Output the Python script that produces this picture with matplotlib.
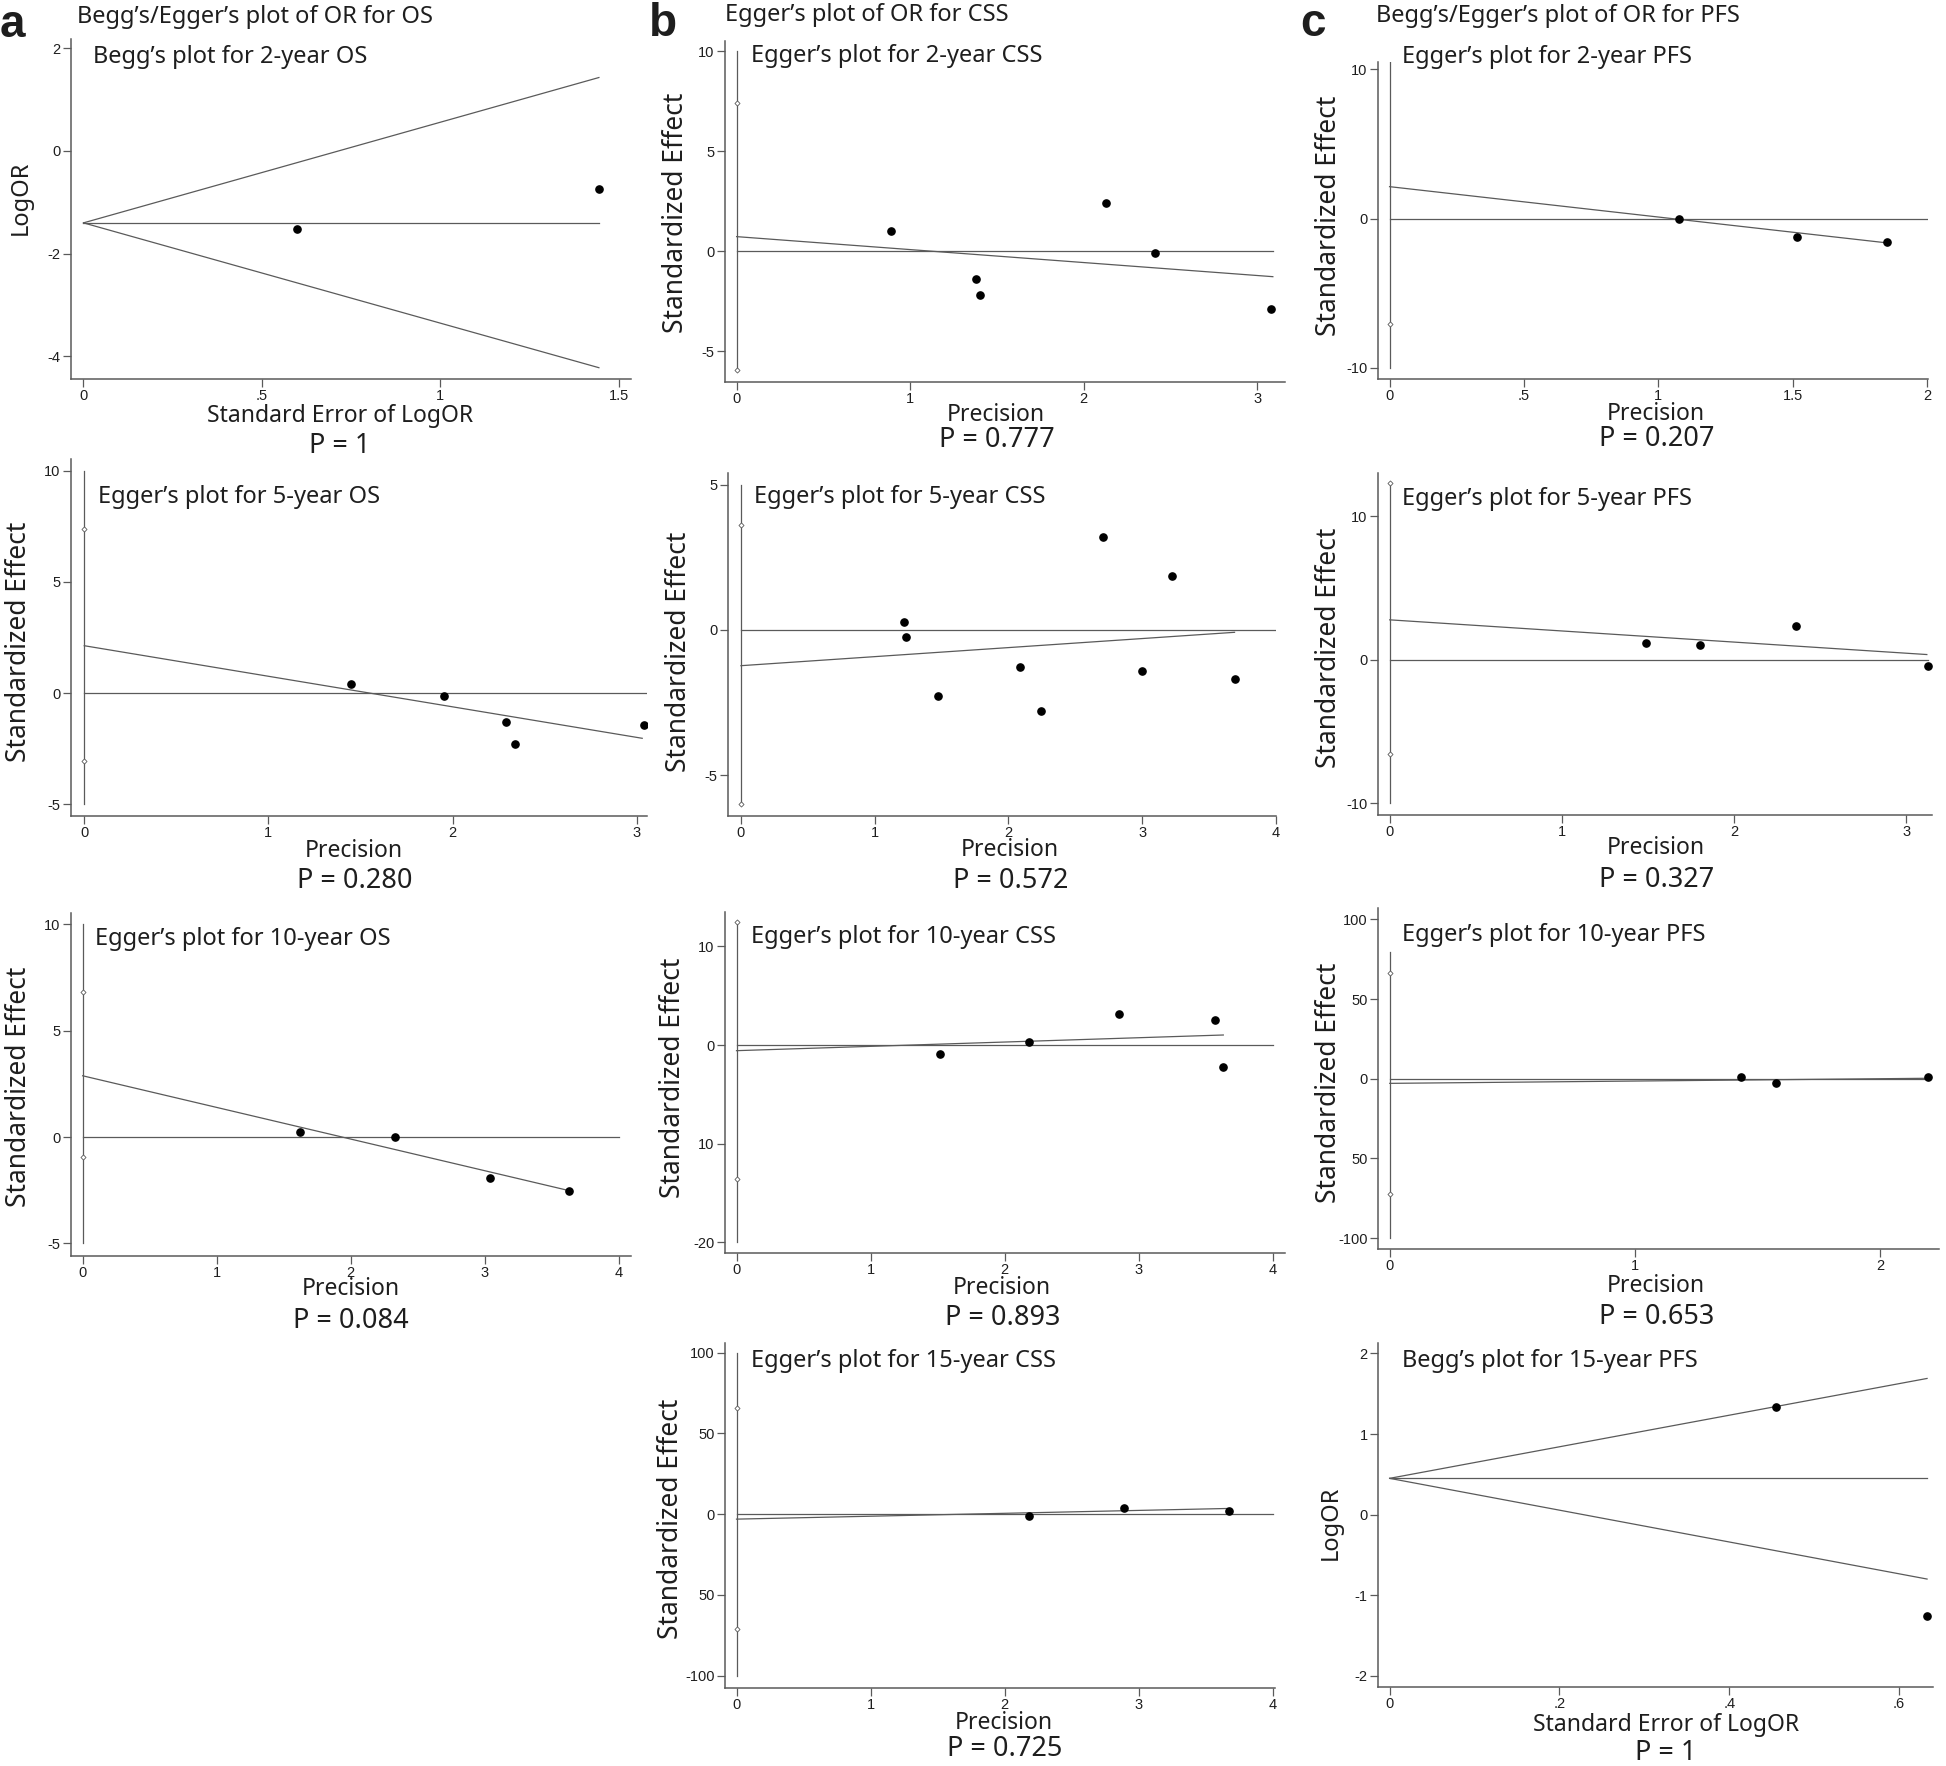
import matplotlib
matplotlib.use("Agg")
import matplotlib.pyplot as plt

W, H = 1946, 1766

# ---------------- data ----------------
# a: OS
a1_se = [0.60, 1.444]
a1_logor = [-1.52, -0.74]
a1_pooled = -1.40
a1_se_max = 1.445
a1_funnel_upper = 1.43
a1_funnel_lower = -4.22
a1_p = "P = 1"

a2_prec = [1.45, 1.955, 2.29, 2.34, 3.04]
a2_eff = [0.42, -0.15, -1.31, -2.30, -1.44]
a2_fit_x = [0, 3.03]
a2_fit_y = [2.13, -2.04]
a2_ci = [7.37, -3.06]
a2_p = "P = 0.280"

a3_prec = [1.62, 2.33, 3.04, 3.63]
a3_eff = [0.22, 0.0, -1.94, -2.52]
a3_fit_x = [0, 3.63]
a3_fit_y = [2.88, -2.52]
a3_ci = [6.82, -0.94]
a3_p = "P = 0.084"

# b: CSS
b1_prec = [0.89, 1.38, 1.40, 2.13, 2.41, 3.08]
b1_eff = [1.0, -1.37, -2.2, 2.43, -0.07, -2.88]
b1_fit_x = [0, 3.09]
b1_fit_y = [0.73, -1.27]
b1_ci = [7.4, -5.95]
b1_p = "P = 0.777"

b2_prec = [1.216, 1.235, 1.476, 2.085, 2.24, 2.705, 2.995, 3.225, 3.69]
b2_eff = [0.27, -0.24, -2.27, -1.28, -2.80, 3.20, -1.40, 1.87, -1.70]
b2_fit_x = [0, 3.69]
b2_fit_y = [-1.23, -0.08]
b2_ci = [3.62, -6.01]
b2_p = "P = 0.572"

b3_prec = [1.52, 2.18, 2.85, 3.57, 3.63]
b3_eff = [-0.94, 0.34, 3.19, 2.58, -2.19]
b3_fit_x = [0, 3.63]
b3_fit_y = [-0.57, 1.02]
b3_ci = [12.5, -13.56]
b3_p = "P = 0.893"

b4_prec = [2.18, 2.89, 3.67]
b4_eff = [-0.9, 4.1, 1.9]
b4_fit_x = [0, 3.66]
b4_fit_y = [-3.1, 3.5]
b4_ci = [66.0, -71.4]
b4_p = "P = 0.725"

# c: PFS
c1_prec = [1.077, 1.515, 1.85]
c1_eff = [0.0, -1.27, -1.58]
c1_fit_x = [0, 1.85]
c1_fit_y = [2.14, -1.63]
c1_ci = [-7.05]
c1_p = "P = 0.207"

c2_prec = [1.49, 1.80, 2.36, 3.125]
c2_eff = [1.14, 1.02, 2.37, -0.44]
c2_fit_x = [0, 3.12]
c2_fit_y = [2.79, 0.37]
c2_ci = [12.3, -6.6]
c2_p = "P = 0.327"

c3_prec = [1.433, 1.575, 2.197]
c3_eff = [0.8, -2.7, 1.2]
c3_fit_x = [0, 2.2]
c3_fit_y = [-2.9, 0.3]
c3_ci = [66.3, -72.3]
c3_p = "P = 0.653"

c4_se = [0.455, 0.633]
c4_logor = [1.33, -1.26]
c4_pooled = 0.45
c4_se_max = 0.633
c4_funnel_upper = 1.69
c4_funnel_lower = -0.80
c4_p = "P = 1"

GRAY = "#5a5a5a"
TXT = "#1e1e1e"
TITLE_FONT = ["Noto Sans", "DejaVu Sans"]
TICK_FONT = ["Liberation Sans Narrow", "Liberation Sans", "DejaVu Sans"]

fig = plt.figure(figsize=(W / 100, H / 100), dpi=100)


def fx(x):
  return x / W


def fy(y):
  return 1 - y / H


def make_axes(box, xlim, ylim, xticks, xlabels, yticks, ylabels):
  left, top, right, bottom = box
  ax = fig.add_axes([fx(left), fy(bottom), (right - left) / W, (bottom - top) / H])
  ax.set_xlim(*xlim)
  ax.set_ylim(*ylim)
  for side in ("top", "right"):
    ax.spines[side].set_visible(False)
  for side in ("left", "bottom"):
    ax.spines[side].set_color(GRAY)
    ax.spines[side].set_linewidth(1.1)
  ax.set_xticks(xticks)
  ax.set_xticklabels(xlabels, family=TICK_FONT, fontsize=10.5, color=TXT)
  ax.set_yticks(yticks)
  ax.set_yticklabels(ylabels, family=TICK_FONT, fontsize=10.5, color=TXT)
  ax.tick_params(direction="out", length=5.5, width=0.9, color=GRAY, pad=2)
  return ax


def egger(ax, prec, eff, fit_x, fit_y, vline, ci, zero_end):
  ax.plot([0, 0], vline, color=GRAY, lw=0.9)
  ax.plot([0] * len(ci), ci, ls="none", marker="D", ms=2.6,
          mfc="white", mec=GRAY, mew=0.6)
  ax.plot([0, zero_end], [0, 0], color=GRAY, lw=0.9)
  ax.plot(fit_x, fit_y, color=GRAY, lw=0.9)
  ax.plot(prec, eff, ls="none", marker="o", ms=5.2, color="black")


def begg(ax, se, logor, pooled, se_max, upper, lower):
  ax.plot([0, se_max], [pooled, pooled], color=GRAY, lw=0.9)
  ax.plot([0, se_max], [pooled, upper], color=GRAY, lw=0.9)
  ax.plot([0, se_max], [pooled, lower], color=GRAY, lw=0.9)
  ax.plot(se, logor, ls="none", marker="o", ms=5.2, color="black")


def text(x, y, s, size, ha="left", va="baseline", rot=0, weight="normal", family=TITLE_FONT):
  fig.text(fx(x), fy(y), s, fontsize=size, ha=ha, va=va, rotation=rot,
           fontweight=weight, family=family, color=TXT)


# positions are text baselines in pixels
def labels(title_xy, title, xlab_xy, xlab, p_xy, p, ylab_xy, ylab):
  text(title_xy[0], title_xy[1], title, 17)
  text(xlab_xy[0], xlab_xy[1], xlab, 16.5, ha="center")
  text(p_xy[0], p_xy[1], p, 19.5, ha="center")
  text(ylab_xy[0], ylab_xy[1], ylab, 19 if ylab != "LogOR" else 17, ha="center",
       va="center", rot=90)


# ---------------- column a ----------------
ax = make_axes((71, 39, 631, 379), (-0.035, 1.535), (-4.44, 2.18),
               [0, 0.5, 1, 1.5], ["0", ".5", "1", "1.5"], [2, 0, -2, -4], ["2", "0", "-2", "-4"])
begg(ax, a1_se, a1_logor, a1_pooled, a1_se_max, a1_funnel_upper, a1_funnel_lower)
labels((93, 63), "Begg’s plot for 2-year OS", (340, 422), "Standard Error of LogOR",
       (340, 453), a1_p, (21, 198), "LogOR")

ax = make_axes((71, 459, 647, 816), (-0.072, 3.056), (-5.54, 10.54),
               [0, 1, 2, 3], ["0", "1", "2", "3"], [10, 5, 0, -5], ["10", "5", "0", "-5"])
egger(ax, a2_prec, a2_eff, a2_fit_x, a2_fit_y, [10, -5], a2_ci, 3.05)
labels((98, 503), "Egger’s plot for 5-year OS", (354, 857), "Precision",
       (355, 888), a2_p, (19, 642), "Standardized Effect")

ax = make_axes((71, 913, 631, 1256), (-0.087, 4.09), (-5.59, 10.53),
               [0, 1, 2, 3, 4], ["0", "1", "2", "3", "4"], [10, 5, 0, -5], ["10", "5", "0", "-5"])
egger(ax, a3_prec, a3_eff, a3_fit_x, a3_fit_y, [10, -5], a3_ci, 4)
labels((95, 945), "Egger’s plot for 10-year OS", (351, 1295), "Precision",
       (351, 1328), a3_p, (19, 1087), "Standardized Effect")

# ---------------- column b ----------------
ax = make_axes((725, 41, 1285, 382), (-0.067, 3.16), (-6.53, 10.5),
               [0, 1, 2, 3], ["0", "1", "2", "3"], [10, 5, 0, -5], ["10", "5", "0", "-5"])
egger(ax, b1_prec, b1_eff, b1_fit_x, b1_fit_y, [10, -5.95], b1_ci, 3.09)
labels((751, 62), "Egger’s plot for 2-year CSS", (996, 421), "Precision",
       (997, 447), b1_p, (676, 213), "Standardized Effect")

ax = make_axes((728, 473, 1276, 816), (-0.097, 4.0), (-6.41, 5.41),
               [0, 1, 2, 3, 4], ["0", "1", "2", "3", "4"], [5, 0, -5], ["5", "0", "-5"])
egger(ax, b2_prec, b2_eff, b2_fit_x, b2_fit_y, [5, -6.01], b2_ci, 4)
labels((754, 503), "Egger’s plot for 5-year CSS", (1010, 856), "Precision",
       (1011, 888), b2_p, (679, 652), "Standardized Effect")

ax = make_axes((725, 912, 1285, 1253), (-0.086, 4.09), (-21.1, 13.5),
               [0, 1, 2, 3, 4], ["0", "1", "2", "3", "4"], [10, 0, -10, -20], ["10", "0", "10", "-20"])
egger(ax, b3_prec, b3_eff, b3_fit_x, b3_fit_y, [12.5, -20], b3_ci, 4)
labels((751, 943), "Egger’s plot for 10-year CSS", (1002, 1294), "Precision",
       (1003, 1325), b3_p, (673, 1078), "Standardized Effect")

ax = make_axes((725, 1343, 1275, 1688), (-0.086, 4.015), (-107.7, 106),
               [0, 1, 2, 3, 4], ["0", "1", "2", "3", "4"], [100, 50, 0, -50, -100],
               ["100", "50", "0", "50", "-100"])
egger(ax, b4_prec, b4_eff, b4_fit_x, b4_fit_y, [100, -100], b4_ci, 4)
labels((751, 1367), "Egger’s plot for 15-year CSS", (1004, 1729), "Precision",
       (1005, 1756), b4_p, (671, 1519), "Standardized Effect")

# ---------------- column c ----------------
ax = make_axes((1378, 62, 1928, 379), (-0.043, 2.003), (-10.76, 10.5),
               [0, 0.5, 1, 1.5, 2], ["0", ".5", "1", "1.5", "2"], [10, 0, -10], ["10", "0", "-10"])
egger(ax, c1_prec, c1_eff, c1_fit_x, c1_fit_y, [10.5, -10], c1_ci, 2)
labels((1402, 63), "Egger’s plot for 2-year PFS", (1656, 420), "Precision",
       (1657, 446), c1_p, (1329, 216), "Standardized Effect")

ax = make_axes((1378, 473, 1932, 815), (-0.068, 3.15), (-10.82, 13.03),
               [0, 1, 2, 3], ["0", "1", "2", "3"], [10, 0, -10], ["10", "0", "-10"])
egger(ax, c2_prec, c2_eff, c2_fit_x, c2_fit_y, [12.3, -10], c2_ci, 3.125)
labels((1402, 505), "Egger’s plot for 5-year PFS", (1656, 854), "Precision",
       (1657, 887), c2_p, (1329, 648), "Standardized Effect")

ax = make_axes((1378, 908, 1939, 1249), (-0.048, 2.24), (-106.8, 107.1),
               [0, 1, 2], ["0", "1", "2"], [100, 50, 0, -50, -100], ["100", "50", "0", "50", "-100"])
egger(ax, c3_prec, c3_eff, c3_fit_x, c3_fit_y, [79.5, -100], c3_ci, 2.2)
labels((1402, 941), "Egger’s plot for 10-year PFS", (1656, 1292), "Precision",
       (1657, 1324), c3_p, (1329, 1083), "Standardized Effect")

ax = make_axes((1378, 1343, 1933, 1687), (-0.0137, 0.640), (-2.14, 2.13),
               [0, 0.2, 0.4, 0.6], ["0", ".2", ".4", ".6"], [2, 1, 0, -1, -2], ["2", "1", "0", "-1", "-2"])
begg(ax, c4_se, c4_logor, c4_pooled, c4_se_max, c4_funnel_upper, c4_funnel_lower)
labels((1402, 1367), "Begg’s plot for 15-year PFS", (1666, 1731), "Standard Error of LogOR",
       (1666, 1760), c4_p, (1331, 1523), "LogOR")

# ---------------- column headers ----------------
BOLD = ["Liberation Sans", "DejaVu Sans"]
text(0, 37, "a", 33, weight="bold", family=BOLD)
text(649, 36, "b", 33, weight="bold", family=BOLD)
text(1300, 36, "c", 33, weight="bold", family=BOLD)
text(77, 23, "Begg’s/Egger’s plot of OR for OS", 17)
text(725, 21, "Egger’s plot of OR for CSS", 17)
text(1376, 22, "Begg’s/Egger’s plot of OR for PFS", 17)

fig.savefig("out.png", dpi=100)
plt.close(fig)
